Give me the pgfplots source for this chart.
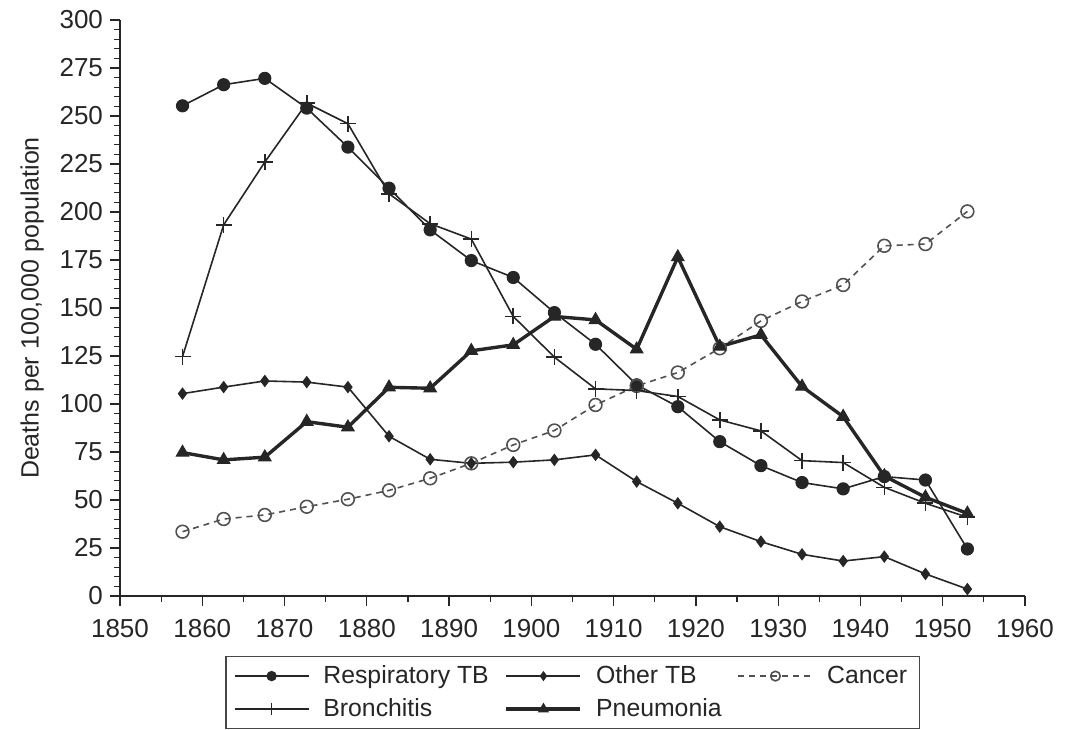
\documentclass[border=0pt]{standalone}
\usepackage{pgfplots}
\pgfplotsset{compat=1.18}
\usepackage{fontspec}
\setmainfont{Liberation Sans}
\usetikzlibrary{calc}
\definecolor{ink}{HTML}{262626}
\begin{document}
\begin{tikzpicture}
\begin{axis}[name=ax,
  scale only axis, width=452.5pt, height=288pt,
  xmin=1850, xmax=1960, ymin=0, ymax=300,
  xtick={1850,1860,...,1960}, minor x tick num=1,
  ytick={0,25,...,300}, minor y tick num=4,
  axis x line*=bottom, axis y line*=left,
  tick align=outside, major tick length=5pt, minor tick length=3pt,
  /pgf/number format/1000 sep={},
  /pgf/number format/assume math mode=true,
  tick label style={font=\fontsize{13}{15}\selectfont, text=ink},
  x tick label style={yshift=-3pt},
  ylabel={Deaths per 100,000 population},
  ylabel style={font=\fontsize{12.5}{14}\selectfont, text=ink},
  ylabel shift=1pt,
  axis line style={ink, line width=0.7pt, -},
  every tick/.style={ink, line width=0.6pt},
  legend columns=3,
  legend cell align=left,
  legend style={at={(0.5,-0.104)}, anchor=north, draw=ink!85, line width=0.7pt,
    font=\fontsize{12.4}{14}\selectfont, text=ink, inner xsep=4pt, inner ysep=2.5pt, row sep=2pt,
    /tikz/every odd column/.append style={column sep=5pt},
    /tikz/every even column/.append style={column sep=6pt}},
  legend image code/.code={\draw[mark repeat=2,mark phase=2,#1,every mark/.append style={scale=0.75}] plot coordinates {(0pt,0pt) (18.5pt,0pt) (37pt,0pt)};},
]
\addplot[ink, line width=0.8pt, mark=*, mark size=2.9pt, mark options={solid, fill=ink}] coordinates {
(1857.6,255.3) (1862.6,266.3) (1867.6,269.6) (1872.7,254.1) (1877.7,233.8)
(1882.7,212.4) (1887.7,190.7) (1892.7,174.7) (1897.8,165.9) (1902.8,147.6)
(1907.8,131.1) (1912.8,110.0) (1917.8,98.6) (1922.9,80.4) (1927.9,67.9)
(1932.9,59.1) (1937.9,55.8) (1942.9,62.2) (1947.9,60.4) (1953.0,24.5)};
\addlegendentry{Respiratory TB}
\addplot[ink, line width=0.8pt, mark=diamond*, mark size=2.5pt, mark options={solid, fill=ink}] coordinates {
(1857.6,105.4) (1862.6,108.8) (1867.6,112.0) (1872.7,111.4) (1877.7,108.8)
(1882.7,83.2) (1887.7,71.2) (1892.7,69.1) (1897.8,69.7) (1902.8,70.9)
(1907.8,73.5) (1912.8,59.6) (1917.8,48.3) (1922.9,36.1) (1927.9,28.3)
(1932.9,21.7) (1937.9,18.2) (1942.9,20.5) (1947.9,11.5) (1953.0,3.6)};
\addlegendentry{Other TB}
\addplot[ink!80, line width=0.8pt, dash pattern=on 3pt off 2.5pt, mark=o, mark size=3.2pt, mark options={solid, fill=white, draw=ink!80}] coordinates {
(1857.6,33.5) (1862.6,40.1) (1867.6,42.2) (1872.7,46.5) (1877.7,50.4)
(1882.7,55.0) (1887.7,61.3) (1892.7,69.1) (1897.8,78.7) (1902.8,86.2)
(1907.8,99.5) (1912.8,109.4) (1917.8,116.4) (1922.9,129.0) (1927.9,143.3)
(1932.9,153.4) (1937.9,162.0) (1942.9,182.4) (1947.9,183.3) (1953.0,200.3)};
\addlegendentry{Cancer}
\addplot[ink, line width=0.8pt, mark=+, mark size=4pt, mark options={solid, line width=0.8pt}] coordinates {
(1857.6,124.7) (1862.6,193.3) (1867.6,226.0) (1872.7,256.7) (1877.7,246.0)
(1882.7,209.5) (1887.7,193.9) (1892.7,185.9) (1897.8,145.6) (1902.8,124.4)
(1907.8,107.9) (1912.8,107.0) (1917.8,103.9) (1922.9,91.7) (1927.9,86.0)
(1932.9,70.5) (1937.9,69.5) (1942.9,56.6) (1947.9,48.3) (1953.0,41.0)};
\addlegendentry{Bronchitis}
\addplot[ink, line width=1.7pt, mark=triangle*, mark size=3.6pt, mark options={solid, fill=ink, line width=0.5pt}] coordinates {
(1857.6,74.7) (1862.6,70.9) (1867.6,72.3) (1872.7,90.8) (1877.7,87.9)
(1882.7,108.7) (1887.7,108.2) (1892.7,127.7) (1897.8,130.8) (1902.8,145.6)
(1907.8,143.8) (1912.8,128.5) (1917.8,176.5) (1922.9,129.9) (1927.9,136.0)
(1932.9,109.1) (1937.9,93.4) (1942.9,62.5) (1947.9,51.4) (1953.0,43.0)};
\addlegendentry{Pneumonia}
\end{axis}
\path[use as bounding box] ($(ax.south west)+(-60pt,-65.5pt)$) rectangle ($(ax.north east)+(20.5pt,10pt)$);
\end{tikzpicture}
\end{document}
